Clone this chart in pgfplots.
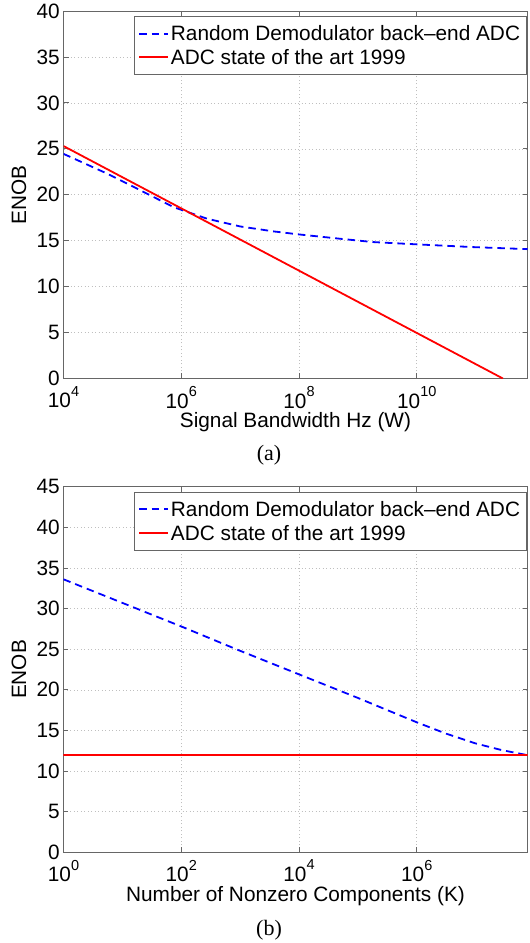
\documentclass[border=0pt]{standalone}
\usepackage{fontspec}
\setmainfont{Liberation Sans}
\newfontfamily\capfont{Liberation Serif}
\usepackage{pgfplots}
\pgfplotsset{compat=1.18}

% 10 with a raised exponent, as the tick labels are set
\newcommand{\pw}[1]{10\raisebox{11.8pt}{\fontsize{14.5}{15}\selectfont #1}}

\pgfplotsset{
  enob/.style={
    scale only axis, width=464pt,
    font=\fontsize{20.8}{25}\selectfont,
    axis line style={black!60, line width=0.8pt},
    every tick/.style={black!60, line width=0.8pt},
    major tick length=5pt, tick align=inside, tick pos=both,
    xminorticks=false, yminorticks=false,
    grid=major,
    major grid style={black!25, line width=0.6pt, dash pattern=on 1pt off 2.5pt},
    /pgf/number format/assume math mode=true,
    yticklabel style={inner sep=0pt, xshift=-3.5pt},
    xticklabel style={inner sep=0pt, yshift=-7.5pt},
    every axis y label/.style={at={(axis description cs:-0.0959,0.5)}, rotate=90, anchor=center},
    every axis x label/.style={at={(axis description cs:0.5,0)}, anchor=base, yshift=-49pt},
    ylabel={ENOB},
    legend cell align=left,
    legend style={at={(1,1)}, anchor=north east, xshift=-1pt, yshift=-5pt,
      draw=black!60, line width=0.8pt, inner xsep=4pt, inner ysep=7.5pt,
      row sep=4pt, column sep=0pt,
      font=\fontsize{20.8}{25}\selectfont,
      nodes={inner sep=2pt, text height=15pt, text depth=0.6pt}},
    legend image code/.code={\draw[#1] (0pt,0pt) -- (29pt,0pt);},
  },
}

\begin{document}
\begin{tikzpicture}
\path[use as bounding box] (0,0) rectangle (530pt,943pt);

% (a) ENOB against signal bandwidth
\begin{axis}[xmode=log, enob,
    at={(63.5pt,564.5pt)}, anchor=south west, height=367.5pt,
    xmin=1e4, xmax=7.6e11, ymin=0, ymax=40,
    xtick={1e4,1e6,1e8,1e10},
    xticklabels={\pw{4},\pw{6},\pw{8},\pw{10}},
    ytick={0,5,...,40},
    xlabel={Signal Bandwidth Hz (W)},
]
\addplot[color=blue, line width=1.8pt, dash pattern=on 7.5pt off 5pt] coordinates {
  (1e4,24.45) (5.5e4,22.3) (2.04e5,20.47) (7.4e5,18.65) (2.75e6,17.39)
  (1e7,16.55) (3.7e7,16.01) (1e8,15.68) (5e8,15.21) (1.8e9,14.85)
  (1e10,14.6) (9.1e10,14.3) (7.6e11,14.08)};
\addplot[color=red, line width=1.8pt] coordinates {(1e4,25.3) (2.9e11,0)};
\legend{Random Demodulator back\textendash end ADC, ADC state of the art 1999}
\end{axis}

% (b) ENOB against number of nonzero components
\begin{axis}[xmode=log, enob,
    at={(63.5pt,90.7pt)}, anchor=south west, height=365.6pt,
    xmin=1, xmax=7.6e7, ymin=0, ymax=45,
    xtick={1,1e2,1e4,1e6},
    xticklabels={\pw{0},\pw{2},\pw{4},\pw{6}},
    ytick={0,5,...,45},
    xlabel={Number of Nonzero Components (K)},
]
\addplot[color=blue, line width=1.8pt, dash pattern=on 7.5pt off 5pt] coordinates {
  (1,33.6) (10,30.7) (1e2,27.8) (1e3,24.8) (1e4,21.9) (1e5,19.0)
  (1e6,16.0) (3.16e6,14.6) (1e7,13.4) (2.7e7,12.6) (7.6e7,11.95)};
\addplot[color=red, line width=1.8pt] coordinates {(1,12) (7.6e7,12)};
\legend{Random Demodulator back\textendash end ADC, ADC state of the art 1999}
\end{axis}

\node[font=\capfont\fontsize{22}{26}\selectfont, anchor=base] at (269pt,482pt) {(a)};
\node[font=\capfont\fontsize{22}{26}\selectfont, anchor=base] at (269pt,7pt) {(b)};
\end{tikzpicture}
\end{document}
